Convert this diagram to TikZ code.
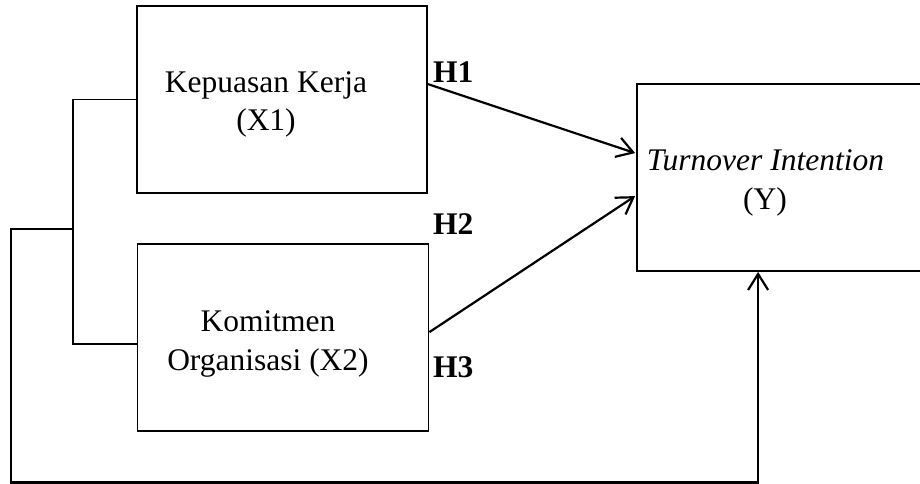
\documentclass[tikz,border=0pt]{standalone}
\usepackage{fontspec}
\setmainfont{Liberation Serif}
\usetikzlibrary{arrows.meta,calc}
\begin{document}
\begin{tikzpicture}[x=1pt,y=-1pt,
  box/.style={draw,line width=1.8pt,inner sep=0pt},
  lbl/.style={inner sep=0pt,anchor=base,font=\fontsize{31.5}{37}\selectfont},
  hyp/.style={inner sep=0pt,anchor=base west,font=\fontsize{31.5}{37}\selectfont\bfseries},
  conn/.style={line width=1.8pt},
  arr/.style={line width=2.2pt,-{Straight Barb[length=16pt,width=20pt,line width=2.2pt]}}]
\useasboundingbox (0,0) rectangle (920,484);
% boxes
\node[box,minimum width=290pt,minimum height=187pt] (x1) at (282,99.5) {};
\node[box,minimum width=291pt,minimum height=187pt] (x2) at (283,337.5) {};
\node[box,minimum width=293pt,minimum height=187pt] (y) at (783.5,177.5) {};
% texts
\node[lbl] (x1a) at (266,93) {Kepuasan Kerja};
\node[lbl] (x1b) at (266,130) {(X1)};
\node[lbl] (x2a) at (268,331) {Komitmen};
\node[lbl] (x2b) at (268,370) {Organisasi (X2)};
\node[lbl] (ya) at (765.5,170) {\itshape Turnover Intention};
\node[lbl] (yb) at (765,209) {(Y)};
\node[hyp] (h1) at (433,83) {H1};
\node[hyp] (h2) at (433,234) {H2};
\node[hyp] (h3) at (433,377) {H3};
% connectors
\coordinate (j) at (74,229);
\coordinate (yin) at ($(y.south west)+(122,0)$);
\coordinate (bl) at (11,482.5);
\draw[conn] (x1.west) -- ++(-63,0) |- ($(x2.south west)+(0,-88)$);
\draw[arr] ($(x1.north east)+(0,79)$) -- ($(y.north west)+(-1,70)$);
\draw[arr] ($(x2.north east)+(0,89)$) -- ($(y.north west)+(-1,113)$);
\draw[arr] (j) -| (bl) -| (yin);
\end{tikzpicture}
\end{document}
